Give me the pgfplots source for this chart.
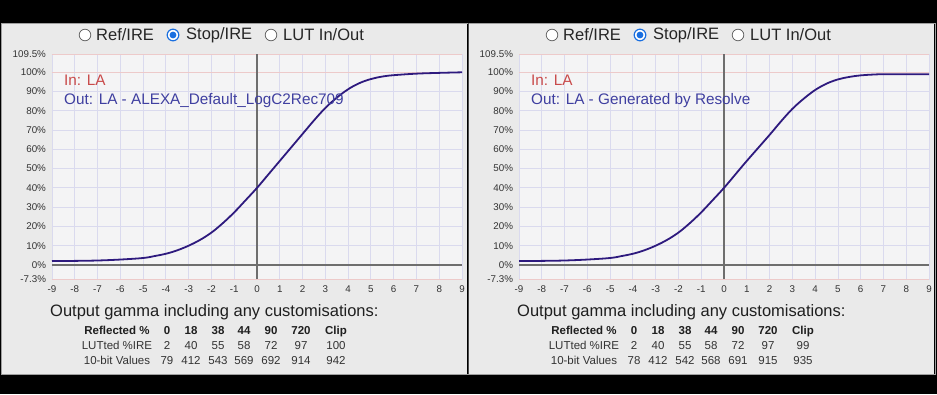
\documentclass[border=0pt]{standalone}
\usepackage{fontspec}
\setmainfont{Liberation Sans}
\usepackage{pgfplots}
\pgfplotsset{compat=1.18}
\definecolor{panelbg}{HTML}{EAEAEA}
\definecolor{plotbg}{HTML}{F4F4F5}
\definecolor{gridc}{HTML}{DADAEE}
\definecolor{pinkc}{HTML}{EDCACA}
\definecolor{curvec}{HTML}{2E1A7E}
\definecolor{inred}{HTML}{C94A4A}
\definecolor{outblue}{HTML}{3F3FA0}
\definecolor{txt}{HTML}{333333}
\definecolor{zeroc}{HTML}{6E6E6E}
\definecolor{radioblue}{HTML}{1A6FE0}

\pgfplotsset{lutaxis/.style={
  scale only axis, width=410pt, height=225pt,
  xmin=-9, xmax=9, ymin=-7.3, ymax=109.5,
  xtick={-9,...,9},
  ytick={-7.3,0,10,20,30,40,50,60,70,80,90,100,109.5},
  yticklabels={-7.3\%,0\%,10\%,20\%,30\%,40\%,50\%,60\%,70\%,80\%,90\%,100\%,109.5\%},
  major tick length=0pt,
  grid=major, major grid style={gridc, line width=0.8pt},
  axis line style={gridc, line width=0.8pt},
  axis background/.style={fill=plotbg},
  tick label style={font=\fontsize{9.8}{10}\selectfont, text=black!80},
  /pgf/number format/assume math mode=true,
  yticklabel style={xshift=-2.5pt},
  xticklabel style={yshift=-3.5pt},
  clip=false,
}}

\pgfplotstableread{
x y
-9 2.0
-8 2.1
-7 2.3
-6 2.8
-5 3.6
-4.5 4.6
-4 5.8
-3.5 7.6
-3 10.0
-2.5 13.0
-2 16.8
-1.5 21.7
-1 27.3
-0.5 33.6
0 40
0.5 47
1 54
2 68
2.5 75
3 81.5
3.5 86.8
4 91.2
4.5 94.4
5 96.5
5.5 97.8
6 98.5
7 99.3
8 99.7
9 100
}\datleft

\pgfplotstableread{
x y
-9 2.0
-8 2.1
-7 2.3
-6 2.8
-5 3.6
-4.5 4.6
-4 5.8
-3.5 7.6
-3 10.0
-2.5 13.0
-2 16.8
-1.5 21.7
-1 27.3
-0.5 33.6
0 40
0.5 47
1 54
2 67.5
2.5 74.5
3 81
3.5 86.3
4 90.8
4.5 94.1
5 96.3
5.5 97.6
6 98.4
6.5 98.8
7 99
8 99
9 99
}\datright

\newcommand\radio[3]{% x, y, selected
  \ifnum#3=1
    \draw[radioblue, line width=1.2pt, fill=white] (#1,#2) circle (5.8);
    \fill[radioblue] (#1,#2) circle (3.4);
  \else
    \draw[gray!80!black, line width=0.8pt, fill=white] (#1,#2) circle (5.8);
  \fi}

\newcommand\panelbg[1]{%
  \begin{scope}[x=1pt,y=1pt]
  \fill[panelbg] ({#1+1},20) rectangle ({#1+467},371);
  \radio{#1+85}{359}{0}
  \radio{#1+173}{359}{1}
  \radio{#1+271}{359}{0}
  \node[anchor=west, inner sep=0, font=\fontsize{16.5}{18}\selectfont, text=black!85] at ({#1+96},359) {Ref/IRE};
  \node[anchor=west, inner sep=0, font=\fontsize{16.5}{18}\selectfont, text=black!85] at ({#1+186},359) {Stop/IRE};
  \node[anchor=west, inner sep=0, font=\fontsize{16.5}{18}\selectfont, text=black!85] at ({#1+283},359) {LUT In/Out};
  \end{scope}}

\newcommand\panelplot[2]{% #1 xoffset, #2 data
  \begin{axis}[lutaxis, at={({#1pt+52pt},115pt)}, anchor=south west]
    \draw[pinkc, line width=0.8pt] (axis cs:-9,100) -- (axis cs:9,100);
    \draw[pinkc, line width=0.8pt] (axis cs:-9,109.5) -- (axis cs:9,109.5);
    \draw[pinkc, line width=0.8pt] (axis cs:-9,-7.3) -- (axis cs:9,-7.3);
    \draw[zeroc, line width=1.3pt] (axis cs:0,-7.3) -- (axis cs:0,109.5);
    \draw[zeroc, line width=2.4pt] (axis cs:-9,0) -- (axis cs:9,0);
    \addplot[curvec, line width=1.8pt, smooth, tension=0.6] table[x=x,y=y] {#2};
  \end{axis}}

\newcommand\paneltext[4]{% #1 xoffset, #2 out text, #3 clip LUT, #4 10-bit row
  \begin{scope}[x=1pt,y=1pt]
  \node[anchor=west, inner sep=0, font=\fontsize{15.3}{16}\selectfont, text=inred] at ({#1+64},314) {In: LA};
  \node[anchor=west, inner sep=0, font=\fontsize{15.3}{16}\selectfont, text=outblue] at ({#1+64},293) {#2};
  \node[anchor=west, inner sep=0, font=\fontsize{16.5}{18}\selectfont, text=black!88] at ({#1+50},82) {Output gamma including any customisations:};
  \begin{scope}[every node/.style={inner sep=0, anchor=base, font=\fontsize{11.5}{12}\selectfont, text=txt}]
    \node[font=\fontsize{11.5}{12}\selectfont\bfseries, text=black!88] at ({#1+117},60) {Reflected \%};
    \node at ({#1+117},45) {LUTted \%IRE};
    \node at ({#1+117},30) {10-bit Values};
    \foreach \xx/\lab in {167/0,191/18,218/38,244/44,271/90,301/720,336/Clip}
      \node[font=\fontsize{11.5}{12}\selectfont\bfseries, text=black!88] at ({#1+\xx},60) {\lab};
    \foreach \xx/\lab in {167/2,191/40,218/55,244/58,271/72,301/97,336/#3}
      \node at ({#1+\xx},45) {\lab};
    \foreach \xx/\lab in {#4}
      \node at ({#1+\xx},30) {\lab};
  \end{scope}
  \end{scope}}

\begin{document}
\begin{tikzpicture}
\useasboundingbox (0pt,0pt) rectangle (937pt,394pt);
\fill[black] (0pt,0pt) rectangle (937pt,394pt);
\panelbg{0}
\panelbg{467}
\panelplot{0}{\datleft}
\panelplot{467}{\datright}
\paneltext{0}{Out: LA - ALEXA\_Default\_LogC2Rec709}{100}{167/79,191/412,218/543,244/569,271/692,301/914,336/942}
\paneltext{467}{Out: LA - Generated by Resolve}{99}{167/78,191/412,218/542,244/568,271/691,301/915,336/935}
\draw[gray!75, line width=0.8pt] (1pt,20pt) rectangle (935pt,371pt);
\draw[gray!60!black, line width=1pt] (468pt,20pt) -- (468pt,371pt);
\end{tikzpicture}
\end{document}
